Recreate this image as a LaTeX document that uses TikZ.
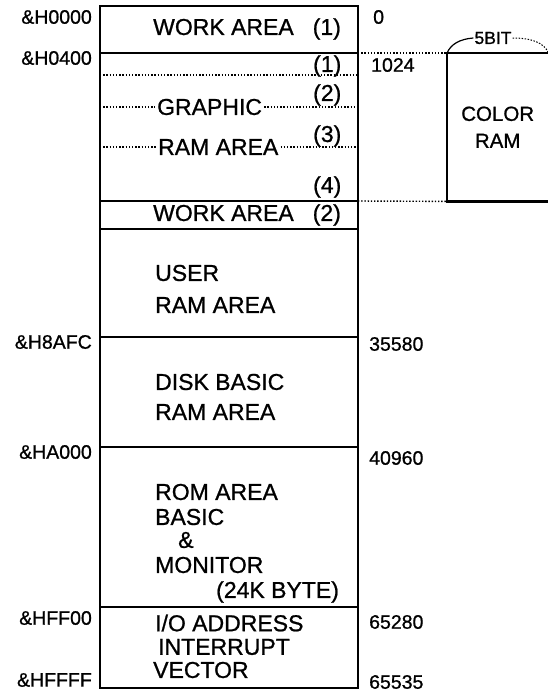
\documentclass[tikz,border=0pt]{standalone}
\usepackage{fontspec}
\setmainfont{Liberation Sans}[FakeBold=0.9]
\usetikzlibrary{positioning}

\begin{document}
\begin{tikzpicture}[
    x=1pt, y=-1pt,
    font=\fontsize{23}{26}\selectfont,
    seg/.style={draw, line width=2.2pt, anchor=north west, minimum width=258pt, inner sep=0pt, outer sep=0pt},
    wall/.style={line width=2.2pt},
    txt/.style={anchor=west, inner sep=0pt},
    addr/.style={anchor=east, inner sep=0pt, font=\fontsize{19.5}{22}\selectfont},
    num/.style={anchor=west, inner sep=0pt, font=\fontsize{19.5}{22}\selectfont},
    dots/.style={line width=1.4pt, dash pattern=on 1.4pt off 1.8pt},
    thindots/.style={line width=1pt, dash pattern=on 1.5pt off 1.5pt}
]
\useasboundingbox (0,0) rectangle (548,694);

% Memory map
\node[seg, minimum height=47pt] (wa1) at (100,6) {};
\node[seg, minimum height=148pt, below=0pt of wa1] (gra) {};
\node[seg, minimum height=28pt, below=0pt of gra] (wa2) {};
\node[seg, minimum height=108pt, below=0pt of wa2] (user) {};
\node[seg, minimum height=110pt, below=0pt of user] (disk) {};
\node[seg, minimum height=160pt, below=0pt of disk] (rom) {};
\node[seg, minimum height=81pt, below=0pt of rom] (io) {};

% Work areas
\node[txt] (wa1t) at (153,29) {WORK AREA\hspace{19pt}(1)};
\node[txt] (wa2t) at (153,215) {WORK AREA\hspace{19pt}(2)};

% Graphic RAM area
\node[txt] (g1) at (313,66) {(1)};
\node[txt] (g2) at (313,95) {(2)};
\node[txt] (g3) at (313,136) {(3)};
\node[txt] (g4) at (313,187) {(4)};
\node[txt, inner xsep=2pt] (gtxt) at (155,107) {GRAPHIC};
\node[txt, inner xsep=2pt] (rtxt) at (156,147) {RAM AREA};
\draw[dots] ([yshift=-22pt]gra.north west) -- ([yshift=-22pt]gra.north east);
\draw[dots] (gra.west |- gtxt) -- (gtxt.west);
\draw[dots] (gtxt.east) -- (gra.east |- gtxt);
\draw[dots] (gra.west |- rtxt) -- (rtxt.west);
\draw[dots] (rtxt.east) -- (gra.east |- rtxt);

% User / disk / rom / io
\node[txt] (user1) at (155,273) {USER};
\node[txt] (user2) at (155,305) {RAM AREA};
\node[txt] (disk1) at (155,382) {DISK BASIC};
\node[txt] (disk2) at (155,412) {RAM AREA};
\node[txt] (rom1) at (155,492) {ROM AREA};
\node[txt] (rom2) at (155,517) {BASIC};
\node[txt] (rom3) at (178,540) {\&};
\node[txt] (rom4) at (155,565) {MONITOR};
\node[txt] (rom5) at (216,592) {(24K BYTE)};
\node[txt] (io1) at (155,623) {I/O ADDRESS};
\node[txt] (io2) at (158,647) {INTERRUPT};
\node[txt] (io3) at (153,670) {VECTOR};

% Color RAM
\node[minimum width=101pt, minimum height=148pt, anchor=north west, inner sep=0pt] (cram) at (447,53) {};
\draw[wall] (cram.north east) -- (cram.north west) -- (cram.south west) -- (cram.south east);
\node[align=center, font=\fontsize{20.5}{27}\selectfont] (cramt) at (cram.center) {COLOR\\RAM};
\node[inner sep=1pt, font=\fontsize{17.5}{20}\selectfont] (bits) at (493,38) {5BIT};
\draw[line width=1.2pt] (cram.north west) .. controls (451,44) and (460,39) .. (bits.west);
\draw[thindots] (bits.east) .. controls (530,38) and (544,42) .. (cram.north east);
\draw[dots] (gra.north east) -- (cram.north west);
\draw[dots] (gra.south east) -- (cram.south west);

% Addresses
\node[addr] (a0000) at (92,17) {\&H0000};
\node[addr] (a0400) at (92,58) {\&H0400};
\node[addr] (a8afc) at (92,342) {\&H8AFC};
\node[addr] (aa000) at (92,452) {\&HA000};
\node[addr] (aff00) at (92,618) {\&HFF00};
\node[addr] (affff) at (92,680) {\&HFFFF};
\node[num] (d0) at (373,17) {0};
\node[num] (d1024) at (371,65) {1024};
\node[num] (d35580) at (369,344) {35580};
\node[num] (d40960) at (369,458) {40960};
\node[num] (d65280) at (369,622) {65280};
\node[num] (d65535) at (369,682) {65535};
\end{tikzpicture}
\end{document}
